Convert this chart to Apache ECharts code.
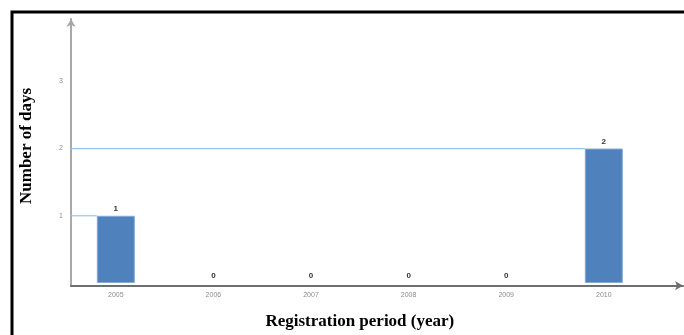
<!DOCTYPE html>
<html><head><meta charset="utf-8">
<script src="https://cdn.jsdelivr.net/npm/echarts@6/dist/echarts.min.js"></script>
<style>html,body{margin:0;padding:0;background:#fff}#c{width:684px;height:335px}</style>
</head><body><div id="c"></div>
<script>
const categories = ['2005','2006','2007','2008','2009','2010'];
const days = [1,0,0,0,0,2];
const yTicks = [0,1,2,3];

const chart = echarts.init(document.getElementById('c'));
const serif = '"Liberation Serif","Times New Roman",serif';
chart.setOption({
  animation:false,
  graphic:[{type:'rect',shape:{x:12,y:12,width:720,height:400},style:{fill:'none',stroke:'#000',lineWidth:3},z:0}],
  grid:[
    {left:67,width:585.6,top:20.8,bottom:49.3},
    {left:71,right:1,top:19,bottom:49.3}
  ],
  xAxis:[
    {type:'category',gridIndex:0,data:categories,
     axisLine:{show:false},axisTick:{show:false},
     axisLabel:{fontSize:7,color:'#8c8c8c',margin:9,fontFamily:'Liberation Sans'},
     name:'Registration period (year)',nameLocation:'middle',nameGap:30,
     nameTextStyle:{fontFamily:serif,fontWeight:'bold',fontSize:17,color:'#000'}},
    {type:'value',gridIndex:1,min:0,max:1,
     axisLine:{show:true,symbol:['none','arrow'],symbolSize:[7,8],lineStyle:{color:'#6e6e6e',width:2}},
     axisTick:{show:false},axisLabel:{show:false},splitLine:{show:false}}
  ],
  yAxis:[
    {type:'value',gridIndex:0,min:0,max:3.9,interval:1,offset:-4,
     axisLine:{show:false},axisTick:{show:false},splitLine:{show:false},
     axisLabel:{fontSize:7,color:'#8c8c8c',margin:8,fontFamily:'Liberation Sans',
       formatter:v=>yTicks.includes(v)&&v>0?String(v):''},
     name:'Number of days',nameLocation:'middle',nameGap:36,nameRotate:90,
     nameTextStyle:{fontFamily:serif,fontWeight:'bold',fontSize:17,color:'#000',padding:[0,0,0,12]}},
    {type:'value',gridIndex:1,min:0,max:1,
     axisLine:{show:true,symbol:['none','arrow'],symbolSize:[7,8],lineStyle:{color:'#a8a8a8',width:2}},
     axisTick:{show:false},axisLabel:{show:false},splitLine:{show:false}}
  ],
  series:[
    {type:'custom',xAxisIndex:0,yAxisIndex:0,z:1,
     data:categories.map((c,i)=>[i,days[i]]),
     renderItem:function(params,api){
       const v=api.value(1);
       if(!v) return null;
       const p=api.coord([api.value(0),v]);
       const bw=38;
       return {type:'line',shape:{x1:params.coordSys.x+4,y1:p[1],x2:p[0]-bw/2,y2:p[1]},
               style:{stroke:'#9dc3e6',lineWidth:1.2}};
     }},
    {type:'bar',xAxisIndex:0,yAxisIndex:0,barWidth:38,z:2,
     data:days.map(v=>({value:v,itemStyle:{borderWidth:v>0?1:0}})),
     itemStyle:{color:'#4f81bd',borderColor:'#86a9d6'},
     label:{show:true,position:'top',distance:3,fontSize:8,fontWeight:'bold',color:'#333',fontFamily:'Liberation Sans'}}
  ]
});
</script></body></html>
